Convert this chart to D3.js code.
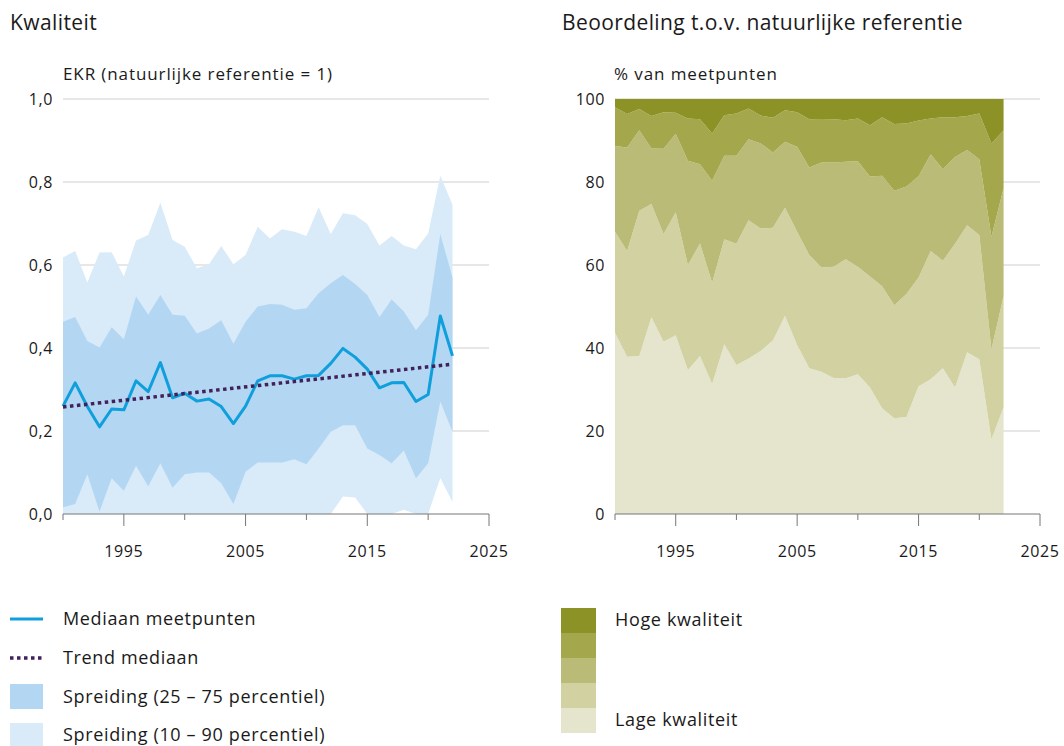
<!DOCTYPE html>
<html lang="nl">
<head>
<meta charset="utf-8">
<title>Kwaliteit</title>
<script src="https://cdn.jsdelivr.net/npm/d3@7"></script>
<style>
  body { margin: 0; background: #fff; }
  svg text { font-family: "Open Sans", sans-serif; fill: #1a1a1a; font-variant-ligatures: none; }
  .title { font-size: 21px; letter-spacing: 0.4px; }
  .subtitle { font-size: 17px; letter-spacing: 0.9px; }
  .tick-label { font-size: 16px; letter-spacing: 0.6px; }
  .legend-label { font-size: 18px; letter-spacing: 0.65px; }
  .grid line { stroke: #cfcfcf; stroke-width: 1; }
  .axis path, .axis line { stroke: #777; }
</style>
</head>
<body>
<script>
// years
var years = d3.range(1990, 2023);

// left chart: EKR values
var median = [0.260, 0.316, 0.259, 0.210, 0.253, 0.251, 0.321, 0.295, 0.365, 0.280,
              0.291, 0.272, 0.277, 0.259, 0.218, 0.260, 0.321, 0.333, 0.333, 0.325,
              0.333, 0.334, 0.363, 0.399, 0.378, 0.349, 0.304, 0.316, 0.317, 0.271,
              0.288, 0.477, 0.381];
var p10 = [0, 0, 0, 0, 0, 0, 0, 0, 0, 0,
           0, 0, 0, 0, 0, 0, 0, 0, 0, 0,
           0, 0, 0, 0.042, 0.040, 0, 0, 0, 0.010, 0,
           0, 0.087, 0.029];
var p25 = [0.016, 0.024, 0.096, 0.006, 0.086, 0.056, 0.116, 0.067, 0.122, 0.063,
           0.096, 0.100, 0.100, 0.074, 0.024, 0.102, 0.124, 0.124, 0.124, 0.132,
           0.120, 0.158, 0.198, 0.214, 0.214, 0.158, 0.142, 0.122, 0.153, 0.086,
           0.122, 0.271, 0.198];
var p75 = [0.463, 0.475, 0.417, 0.401, 0.450, 0.421, 0.524, 0.480, 0.528, 0.480,
           0.478, 0.435, 0.447, 0.467, 0.410, 0.463, 0.500, 0.506, 0.504, 0.492,
           0.496, 0.532, 0.556, 0.576, 0.554, 0.528, 0.475, 0.517, 0.488, 0.443,
           0.480, 0.675, 0.570];
var p90 = [0.618, 0.634, 0.558, 0.630, 0.631, 0.572, 0.659, 0.672, 0.750, 0.660,
           0.644, 0.592, 0.602, 0.646, 0.602, 0.624, 0.692, 0.664, 0.686, 0.680,
           0.670, 0.739, 0.675, 0.725, 0.720, 0.699, 0.647, 0.670, 0.647, 0.638,
           0.676, 0.815, 0.745];
var trendYears = [1990, 2022];
var trendValues = [0.258, 0.361];

var ekrTicks = [0, 0.2, 0.4, 0.6, 0.8, 1.0];
var yearTicks = [1990, 1995, 2000, 2005, 2010, 2015, 2020, 2025];
var yearLabels = [1995, 2005, 2015, 2025];

// right chart: % of measuring points per class (low -> high)
var classes = ["k1", "k2", "k3", "k4", "k5"];
var k1 = [43.7, 37.9, 38.1, 47.4, 41.5, 43.1, 34.7, 38.1, 31.3, 40.9,
          35.9, 37.5, 39.3, 41.8, 47.7, 40.7, 35.1, 34.3, 32.8, 32.7,
          33.7, 30.5, 25.5, 23.1, 23.4, 30.8, 32.5, 35.1, 30.5, 39.0,
          37.3, 18.0, 25.7];
var k2 = [24.3, 25.5, 35.0, 27.3, 26.0, 29.6, 25.3, 27.1, 24.4, 25.3,
          29.2, 33.3, 29.5, 27.2, 26.1, 27.3, 27.3, 25.1, 26.8, 28.7,
          25.9, 26.7, 29.4, 27.2, 29.6, 26.2, 30.9, 25.9, 34.6, 30.6,
          29.9, 21.7, 26.8];
var k3 = [20.7, 24.9, 19.4, 13.4, 20.5, 18.9, 25.1, 19.1, 24.6, 20.1,
          21.2, 19.5, 20.5, 18.1, 15.9, 20.5, 21.1, 25.3, 25.1, 23.5,
          25.4, 24.1, 26.6, 27.6, 25.9, 24.4, 23.3, 22.1, 20.9, 18.1,
          18.3, 27.1, 26.0];
var k4 = [9.3, 8.1, 5.1, 7.8, 8.8, 5.1, 10.2, 10.8, 11.4, 9.8,
          10.2, 7.4, 6.7, 8.4, 7.6, 8.3, 11.6, 10.5, 10.4, 10.0,
          10.3, 12.4, 14.1, 16.1, 15.2, 13.4, 8.6, 12.5, 9.6, 8.2,
          11.0, 22.5, 13.9];
var k5 = [2.0, 3.6, 2.4, 4.1, 3.2, 3.3, 4.7, 4.9, 8.3, 3.9,
          3.5, 2.3, 4.0, 4.5, 2.7, 3.2, 4.9, 4.8, 4.9, 5.1,
          4.7, 6.3, 4.4, 6.0, 5.9, 5.2, 4.7, 4.4, 4.4, 4.1,
          3.5, 10.7, 7.6];
var pctTicks = [0, 20, 40, 60, 80, 100];
var classColors = ["#e4e5cc", "#d1d1a1", "#b9bb76", "#a4a74b", "#8c9226"];

var w = 1064;
var h = 746;

var svg = d3.select("body")
            .append("svg")
            .attr("width", w)
            .attr("height", h);

// ---------- left chart ----------
var xL = d3.scaleLinear().domain([1990, 2025]).range([63, 489]);
var yL = d3.scaleLinear().domain([0, 1]).range([514, 99]);

svg.append("text").attr("class", "title").attr("x", 10).attr("y", 30).text("Kwaliteit");
svg.append("text").attr("class", "subtitle").attr("x", 63).attr("y", 80).text("EKR (natuurlijke referentie = 1)");

svg.append("g")
   .attr("class", "grid")
   .selectAll("line")
   .data(ekrTicks.slice(1))
   .enter()
   .append("line")
   .attr("x1", xL(1990)).attr("x2", xL(2025))
   .attr("y1", function(d) { return yL(d); })
   .attr("y2", function(d) { return yL(d); });

svg.append("g")
   .selectAll("text")
   .data(ekrTicks)
   .enter()
   .append("text")
   .attr("class", "tick-label")
   .attr("x", 53)
   .attr("y", function(d) { return yL(d); })
   .attr("dy", "0.35em")
   .attr("text-anchor", "end")
   .text(function(d) { return d3.format(".1f")(d).replace(".", ","); });

var band90 = d3.area()
               .x(function(d, i) { return xL(years[i]); })
               .y0(function(d, i) { return yL(p10[i]); })
               .y1(function(d, i) { return yL(p90[i]); });
var band75 = d3.area()
               .x(function(d, i) { return xL(years[i]); })
               .y0(function(d, i) { return yL(p25[i]); })
               .y1(function(d, i) { return yL(p75[i]); });

svg.append("path").datum(years).attr("d", band90).attr("fill", "#d9eaf9");
svg.append("path").datum(years).attr("d", band75).attr("fill", "#b3d7f2");

svg.append("path")
   .datum(median)
   .attr("d", d3.line().x(function(d, i) { return xL(years[i]); }).y(function(d) { return yL(d); }))
   .attr("fill", "none")
   .attr("stroke", "#0f9fdc")
   .attr("stroke-width", 3)
   .attr("stroke-linejoin", "round");

svg.append("path")
   .datum(trendValues)
   .attr("d", d3.line().x(function(d, i) { return xL(trendYears[i]); }).y(function(d) { return yL(d); }))
   .attr("fill", "none")
   .attr("stroke", "#42215a")
   .attr("stroke-width", 3.5)
   .attr("stroke-dasharray", "3.5,3.5");

function drawXAxis(scale) {
  var g = svg.append("g")
             .attr("class", "axis")
             .attr("transform", "translate(0,514)");
  g.append("line")
   .attr("x1", scale(1990)).attr("x2", scale(2025))
   .attr("y1", 0).attr("y2", 0);
  g.selectAll(".tick")
   .data(yearTicks)
   .enter()
   .append("line")
   .attr("x1", function(d) { return scale(d); })
   .attr("x2", function(d) { return scale(d); })
   .attr("y1", 0)
   .attr("y2", function(d) { return yearLabels.indexOf(d) >= 0 ? 12 : 6; });
  g.selectAll("text")
   .data(yearLabels)
   .enter()
   .append("text")
   .attr("class", "tick-label")
   .attr("x", function(d) { return scale(d); })
   .attr("y", 43)
   .attr("text-anchor", "middle")
   .text(function(d) { return d; });
}
drawXAxis(xL);

// ---------- right chart ----------
var xR = d3.scaleLinear().domain([1990, 2025]).range([615, 1040]);
var yR = d3.scaleLinear().domain([0, 100]).range([514, 99]);

svg.append("text").attr("class", "title").attr("x", 562).attr("y", 30).text("Beoordeling t.o.v. natuurlijke referentie");
svg.append("text").attr("class", "subtitle").attr("x", 614).attr("y", 80).text("% van meetpunten");

svg.append("g")
   .attr("class", "grid")
   .selectAll("line")
   .data(pctTicks.slice(1))
   .enter()
   .append("line")
   .attr("x1", xR(1990)).attr("x2", xR(2025))
   .attr("y1", function(d) { return yR(d); })
   .attr("y2", function(d) { return yR(d); });

svg.append("g")
   .selectAll("text")
   .data(pctTicks)
   .enter()
   .append("text")
   .attr("class", "tick-label")
   .attr("x", 605)
   .attr("y", function(d) { return yR(d); })
   .attr("dy", "0.35em")
   .attr("text-anchor", "end")
   .text(function(d) { return d; });

var table = years.map(function(y, i) {
  return { year: y, k1: k1[i], k2: k2[i], k3: k3[i], k4: k4[i], k5: k5[i] };
});
var series = d3.stack().keys(classes)(table);

svg.append("g")
   .selectAll("path")
   .data(series)
   .enter()
   .append("path")
   .attr("fill", function(d, i) { return classColors[i]; })
   .attr("d", d3.area()
                .x(function(d) { return xR(d.data.year); })
                .y0(function(d) { return yR(d[0]); })
                .y1(function(d) { return yR(Math.min(100, d[1])); }));

drawXAxis(xR);

// ---------- legends ----------
var legL = svg.append("g");
legL.append("line").attr("x1", 10).attr("x2", 43).attr("y1", 619).attr("y2", 619)
    .attr("stroke", "#0f9fdc").attr("stroke-width", 3);
legL.append("line").attr("x1", 10).attr("x2", 43).attr("y1", 658).attr("y2", 658)
    .attr("stroke", "#42215a").attr("stroke-width", 3.5).attr("stroke-dasharray", "3.5,3.5");
legL.append("rect").attr("x", 10).attr("y", 684).attr("width", 33).attr("height", 25).attr("fill", "#b3d7f2");
legL.append("rect").attr("x", 10).attr("y", 723).attr("width", 33).attr("height", 25).attr("fill", "#d9eaf9");
var legLabels = ["Mediaan meetpunten", "Trend mediaan", "Spreiding (25 \u2013 75 percentiel)", "Spreiding (10 \u2013 90 percentiel)"];
legL.selectAll("text")
    .data(legLabels)
    .enter()
    .append("text")
    .attr("class", "legend-label")
    .attr("x", 63)
    .attr("y", function(d, i) { return 619 + i * 38.7; })
    .attr("dy", "0.35em")
    .text(function(d) { return d; });

var legR = svg.append("g");
legR.selectAll("rect")
    .data(classColors.slice().reverse())
    .enter()
    .append("rect")
    .attr("x", 561)
    .attr("y", function(d, i) { return 608 + i * 25; })
    .attr("width", 35)
    .attr("height", 25)
    .attr("fill", function(d) { return d; });
legR.append("text").attr("class", "legend-label").attr("x", 615).attr("y", 620).attr("dy", "0.35em").text("Hoge kwaliteit");
legR.append("text").attr("class", "legend-label").attr("x", 615).attr("y", 720).attr("dy", "0.35em").text("Lage kwaliteit");
</script>
</body>
</html>
